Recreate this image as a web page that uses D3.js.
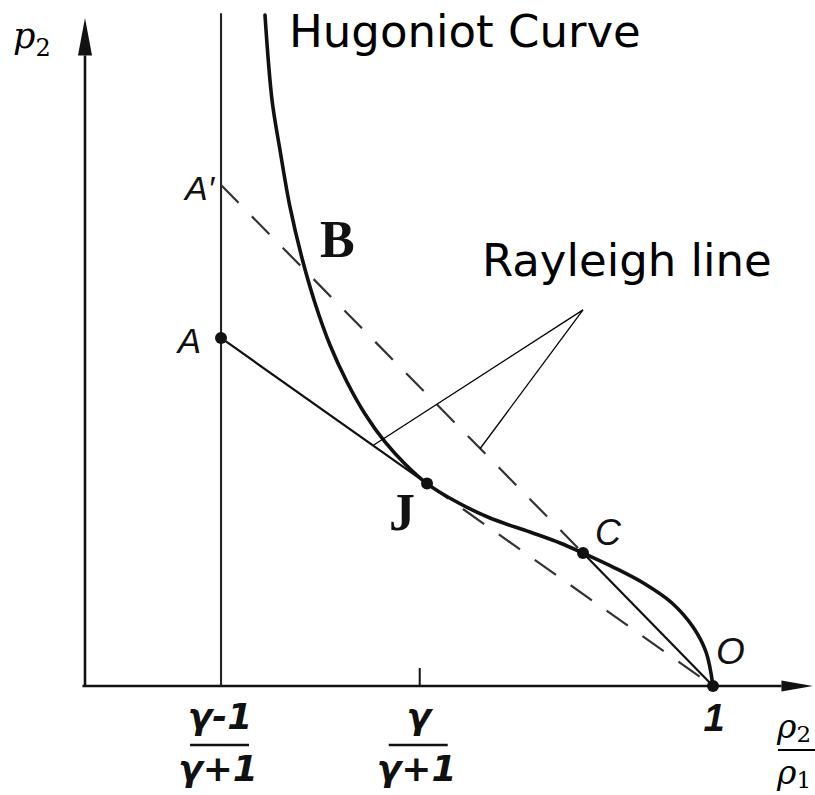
<!DOCTYPE html>
<html>
<head>
<meta charset="utf-8">
<script src="https://cdn.jsdelivr.net/npm/d3@7"></script>
<style>
  html, body { margin: 0; padding: 0; background: #fff; }
  svg { display: block; }
</style>
</head>
<body>
<svg id="chart" width="815" height="795"></svg>
<script>
// Axis extents (density ratio on x, pressure p2 on y, schematic units)
const xAxisEnd = 1.159;
const yAxisEnd = 10.0;

// Special abscissas: limiting compression, tangent point, initial state
const tickValues = [0.2166, 0.533, 1];
const tickNumerators = ["γ-1", "γ", null];
const tickDenominators = ["γ+1", "γ+1", null];
const tickPlain = [null, null, "1"];

// Hugoniot curve, from the strong-shock branch down to the initial state O
const hugoniotX = [0.2866, 0.2978, 0.3105, 0.3264, 0.3455, 0.3662, 0.3901, 0.4172, 0.4459,
                   0.4777, 0.5096, 0.5446, 0.5892, 0.6449, 0.7086, 0.7564, 0.793, 0.8439,
                   0.8917, 0.9347, 0.9682, 0.9889, 1.0];
const hugoniotP = [10.045, 8.772, 8.024, 7.171, 6.407, 5.734, 5.105, 4.551, 4.072,
                   3.653, 3.323, 3.03, 2.769, 2.515, 2.305, 2.141, 1.99, 1.766,
                   1.527, 1.243, 0.883, 0.509, 0];

// Named states
const pointNames = ["A′", "A", "J", "C", "O"];
const pointX = [0.2166, 0.2166, 0.5446, 0.793, 1.0];
const pointP = [7.50, 5.21, 3.03, 1.99, 0];
const pointDot = [false, true, true, true, true];

// Annotation anchor for the "Rayleigh line" leader lines
const leaderApex = [0.793, 5.63];
const leaderTargetsX = [0.4586, 0.629];

const svg = d3.select("#chart");
const x = d3.scaleLinear().domain([0, 1]).range([85, 713]);
const y = d3.scaleLinear().domain([0, 10]).range([686, 18]);

const pt = name => {
  const i = pointNames.indexOf(name);
  return [pointX[i], pointP[i]];
};
const A = pt("A"), Ap = pt("A′"), J = pt("J"), C = pt("C"), O = pt("O");
const onLine = (P, Q, xv) => P[1] + (Q[1] - P[1]) * (xv - P[0]) / (Q[0] - P[0]);

const ink = "#111";
const seg = (g, P, Q, w, dash, color) => g.append("line")
  .attr("x1", x(P[0])).attr("y1", y(P[1]))
  .attr("x2", x(Q[0])).attr("y2", y(Q[1]))
  .attr("stroke", color || ink).attr("stroke-width", w)
  .attr("stroke-dasharray", dash || null);

const g = svg.append("g");

// Axes with arrowheads
seg(g, [0, 0], [0, yAxisEnd - 0.56], 2.6);
g.append("path")
  .attr("d", `M${x(0)},${y(yAxisEnd)} L${x(0) - 7},${y(yAxisEnd - 0.56)} L${x(0) + 7},${y(yAxisEnd - 0.56)} Z`)
  .attr("fill", ink);
seg(g, [-0.004, 0], [xAxisEnd - 0.05, 0], 2.6);
g.append("path")
  .attr("d", `M${x(xAxisEnd)},${y(0)} L${x(xAxisEnd - 0.05)},${y(0) - 5.5} L${x(xAxisEnd - 0.05)},${y(0) + 5.5} Z`)
  .attr("fill", ink);

// Vertical asymptote at the limiting density ratio
seg(g, [tickValues[0], 0], [tickValues[0], 10.07], 2.1, null, "#222");

// Small tick at the tangent abscissa
g.append("line")
  .attr("x1", x(tickValues[1])).attr("x2", x(tickValues[1]))
  .attr("y1", y(0)).attr("y2", y(0) - 18)
  .attr("stroke", ink).attr("stroke-width", 2);

// Rayleigh line through A, tangent at J: solid to J, dashed on to O
seg(g, A, J, 2.2);
seg(g, J, O, 2.2, "26 18", "#333");
// Rayleigh line through A′, B, C: dashed to C, solid on to O
seg(g, Ap, C, 2.2, "25 19", "#333");
seg(g, C, O, 2.2);

// Hugoniot curve
const hug = hugoniotX.map((v, i) => [v, hugoniotP[i]]);
g.append("path")
  .datum(hug)
  .attr("d", d3.line().x(d => x(d[0])).y(d => y(d[1])).curve(d3.curveCatmullRom.alpha(0.5)))
  .attr("fill", "none").attr("stroke", ink).attr("stroke-width", 3.6)
  .attr("stroke-linecap", "round");

// State dots
pointNames.forEach((n, i) => {
  if (!pointDot[i]) return;
  g.append("circle").attr("cx", x(pointX[i])).attr("cy", y(pointP[i])).attr("r", 6).attr("fill", ink);
});

// Leader lines for the "Rayleigh line" annotation
const apexPx = [x(leaderApex[0]), y(leaderApex[1])];
leaderTargetsX.forEach((xv, i) => {
  const P = i === 0 ? onLine(A, O, xv) : onLine(Ap, O, xv);
  g.append("line")
    .attr("x1", apexPx[0]).attr("y1", apexPx[1])
    .attr("x2", x(xv)).attr("y2", y(P))
    .attr("stroke", "#000").attr("stroke-width", 1.3);
});

// State letters
const gost = "'Liberation Sans', Arial, sans-serif";
const greek = "'DejaVu Sans', sans-serif";
const serif = "'Liberation Serif', 'Times New Roman', serif";
const letter = (txt, px, py, size, family, italic, weight, anchor) => g.append("text")
  .attr("x", px).attr("y", py).text(txt)
  .attr("font-family", family).attr("font-size", size)
  .attr("font-style", italic ? "italic" : "normal")
  .attr("font-weight", weight || "normal")
  .attr("text-anchor", anchor || "start")
  .attr("fill", ink);

letter("A′", x(Ap[0]) - 7, y(Ap[1]) + 15, 34, gost, true, "normal", "end");
letter("A", x(A[0]) - 20, y(A[1]) + 15, 35, gost, true, "normal", "end");
letter("C", x(C[0]) + 12, y(C[1]) - 8, 36, gost, true, "normal", "start");
letter("O", x(O[0]) + 3, y(O[1]) - 22, 37, gost, true, "normal", "start");
letter("B", 320, 257, 52, serif, false, "bold", "start");
letter("J", x(J[0]) - 38, y(J[1]) + 46, 52, serif, false, "bold", "start");

// Tick labels under the density axis
tickValues.forEach((v, i) => {
  const cx = x(v);
  if (tickPlain[i]) {
    letter(tickPlain[i], cx + 1, 731, 38, gost, true, "bold", "middle");
    return;
  }
  letter(tickNumerators[i], cx - 1, 729, 36, greek, true, "bold", "middle");
  g.append("line").attr("x1", cx - 31).attr("x2", cx + 28)
    .attr("y1", 745).attr("y2", 745).attr("stroke", ink).attr("stroke-width", 2.4);
  letter(tickDenominators[i], cx - 3, 781, 36, greek, true, "bold", "middle");
});

// Axis titles
const math = "'DejaVu Serif', 'Liberation Serif', serif";
const p2 = g.append("text").attr("x", 13).attr("y", 48)
  .attr("font-family", math).attr("font-size", 35).attr("fill", "#000");
p2.append("tspan").text("p").attr("font-style", "italic");
p2.append("tspan").text("2").attr("font-size", 24).attr("dy", 8);

const r2 = g.append("text").attr("x", 777).attr("y", 738)
  .attr("font-family", math).attr("font-size", 33).attr("fill", "#000");
r2.append("tspan").text("ρ").attr("font-style", "italic");
r2.append("tspan").text("2").attr("font-size", 23).attr("dy", 4);
g.append("line").attr("x1", 778).attr("x2", 815).attr("y1", 750).attr("y2", 750)
  .attr("stroke", "#000").attr("stroke-width", 2);
const r1 = g.append("text").attr("x", 777).attr("y", 784)
  .attr("font-family", math).attr("font-size", 33).attr("fill", "#000");
r1.append("tspan").text("ρ").attr("font-style", "italic");
r1.append("tspan").text("1").attr("font-size", 23).attr("dy", 4);

// Annotations
g.append("text").attr("x", 289).attr("y", 47).text("Hugoniot Curve")
  .attr("font-family", "'DejaVu Sans', Verdana, sans-serif").attr("font-size", 45).attr("fill", "#000");
g.append("text").attr("x", 482).attr("y", 276).text("Rayleigh line")
  .attr("font-family", "'DejaVu Sans', Verdana, sans-serif").attr("font-size", 45).attr("fill", "#000");
</script>
</body>
</html>
